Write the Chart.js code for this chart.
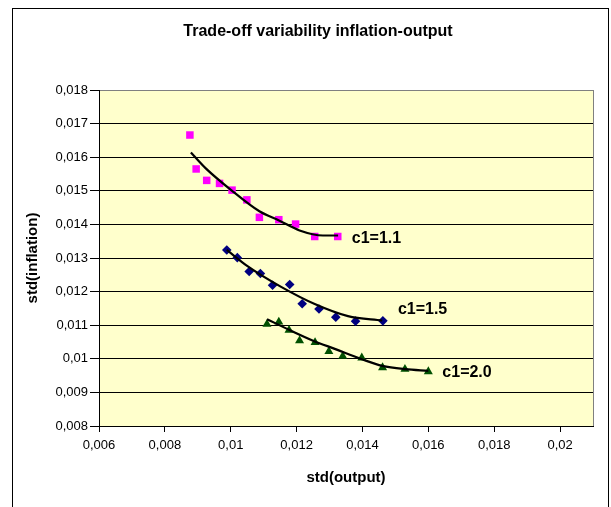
<!DOCTYPE html>
<html>
<head>
<meta charset="utf-8">
<style>
  html, body { margin: 0; padding: 0; background: #ffffff; }
  canvas { display: block; }
</style>
<script src="https://cdn.jsdelivr.net/npm/chart.js@4/dist/chart.umd.min.js"></script>
</head>
<body>
<canvas id="c" width="611" height="507"></canvas>
<script>
// ---- data ----
const chartTitle = 'Trade-off variability inflation-output';
const xTitle = 'std(output)';
const yTitle = 'std(inflation)';
const seriesLabels = ['c1=1.1', 'c1=1.5', 'c1=2.0'];

const c11X = [0.00876, 0.00895, 0.00927, 0.00966, 0.01004, 0.01049, 0.01087, 0.01146, 0.01197, 0.01255, 0.01325];
const c11Y = [0.01666, 0.01565, 0.01531, 0.01522, 0.01502, 0.01473, 0.01421, 0.01414, 0.01401, 0.01364, 0.01364];

const c15X = [0.00988, 0.01020, 0.01056, 0.01090, 0.01127, 0.01179, 0.01217, 0.01268, 0.01319, 0.01379, 0.01462];
const c15Y = [0.01324, 0.01301, 0.01260, 0.01254, 0.01219, 0.01221, 0.01164, 0.01148, 0.01124, 0.01112, 0.01113];

const c20X = [0.01110, 0.01146, 0.01177, 0.01209, 0.01256, 0.01298, 0.01340, 0.01398, 0.01461, 0.01529, 0.01600];
const c20Y = [0.01103, 0.01110, 0.01085, 0.01054, 0.01049, 0.01022, 0.01008, 0.01003, 0.00974, 0.00969, 0.00962];

// trend lines
const t11X = [0.00879, 0.00925, 0.01004, 0.01087, 0.01148, 0.01209, 0.01280, 0.01326];
const t11Y = [0.01614, 0.01566, 0.01500, 0.01439, 0.01411, 0.01382, 0.01367, 0.01367];
const t15X = [0.00988, 0.01052, 0.01153, 0.01255, 0.01356, 0.01460];
const t15Y = [0.01324, 0.01275, 0.01214, 0.01163, 0.01127, 0.01114];
const t20X = [0.01110, 0.01180, 0.01250, 0.01320, 0.01400, 0.01460, 0.01530, 0.01600];
const t20Y = [0.01118, 0.01085, 0.01054, 0.01028, 0.00998, 0.00979, 0.00969, 0.00964];

const xMin = 0.006, xMax = 0.021, xStep = 0.002;
const yMin = 0.008, yMax = 0.018, yStep = 0.001;

// ---- helpers ----
const pts = (xs, ys) => xs.map((x, i) => ({ x: x, y: ys[i] }));
const fmt = v => parseFloat(Number(v).toFixed(4)).toString().replace('.', ',');
const FONT = '"Liberation Sans", Arial, sans-serif';

const frameAndTitle = {
  id: 'frameAndTitle',
  beforeDraw(chart) {
    const { ctx, chartArea: a } = chart;
    ctx.save();
    ctx.fillStyle = '#ffffff';
    ctx.fillRect(0, 0, chart.width, chart.height);
    // outer chart frame
    ctx.strokeStyle = '#000000';
    ctx.lineWidth = 1;
    ctx.strokeRect(12.5, 8.5, 596, 520);
    // plot area
    ctx.fillStyle = '#FFFFCC';
    ctx.fillRect(a.left, a.top, a.right - a.left, a.bottom - a.top);
    ctx.strokeStyle = '#808080';
    ctx.strokeRect(Math.round(a.left) + 0.5, Math.round(a.top) + 0.5,
                   Math.round(a.right - a.left), Math.round(a.bottom - a.top));
    // title
    ctx.fillStyle = '#000000';
    ctx.font = 'bold 16px ' + FONT;
    ctx.textAlign = 'center';
    ctx.textBaseline = 'middle';
    ctx.fillText(chartTitle, 318, 32);
    ctx.restore();
  }
};

const seriesLabelPlugin = {
  id: 'seriesLabels',
  afterDatasetsDraw(chart) {
    const { ctx } = chart;
    const markerSets = [3, 4, 5];
    const offs = [[14, 2], [15, -11], [14, 1]];
    ctx.save();
    ctx.fillStyle = '#000000';
    ctx.font = 'bold 16px ' + FONT;
    ctx.textAlign = 'left';
    ctx.textBaseline = 'middle';
    markerSets.forEach((di, k) => {
      const meta = chart.getDatasetMeta(di);
      const last = meta.data[meta.data.length - 1];
      ctx.fillText(seriesLabels[k], last.x + offs[k][0], last.y + offs[k][1]);
    });
    ctx.restore();
  }
};

const trendStyle = {
  showLine: true,
  borderColor: '#000000',
  borderWidth: 2.2,
  pointRadius: 0,
  pointHoverRadius: 0,
  fill: false,
  cubicInterpolationMode: 'monotone'
};

new Chart(document.getElementById('c'), {
  type: 'scatter',
  data: {
    datasets: [
      Object.assign({ data: pts(t11X, t11Y) }, trendStyle),
      Object.assign({ data: pts(t15X, t15Y) }, trendStyle),
      Object.assign({ data: pts(t20X, t20Y) }, trendStyle),
      { data: pts(c11X, c11Y), pointStyle: 'rect', pointRadius: 5.3,
        backgroundColor: '#FF00FF', borderColor: '#FF00FF', borderWidth: 0 },
      { data: pts(c15X, c15Y), pointStyle: 'rectRot', pointRadius: 4.8,
        backgroundColor: '#000080', borderColor: '#000080', borderWidth: 0 },
      { data: pts(c20X, c20Y), pointStyle: 'triangle', pointRadius: 5.2,
        backgroundColor: '#005000', borderColor: '#005000', borderWidth: 0 }
    ]
  },
  options: {
    responsive: false,
    animation: false,
    devicePixelRatio: 1,
    layout: { padding: { left: 12, top: 90, right: 18, bottom: 0 } },
    plugins: { legend: { display: false }, tooltip: { enabled: false }, title: { display: false } },
    scales: {
      x: {
        type: 'linear',
        min: xMin, max: xMax,
        afterFit: s => { s.height = 81; },
        ticks: {
          stepSize: xStep, includeBounds: false, padding: 6,
          color: '#000000', font: { family: FONT, size: 13 },
          maxRotation: 0, autoSkip: false,
          callback: v => fmt(v)
        },
        grid: { drawOnChartArea: false, drawTicks: true, tickLength: 6, tickColor: '#000000', color: '#000000' },
        border: { display: true, color: '#000000', width: 1 },
        title: { display: true, text: xTitle, color: '#000000',
                 font: { family: FONT, size: 15, weight: 'bold' }, padding: { top: 0, bottom: 20 } }
      },
      y: {
        type: 'linear',
        min: yMin, max: yMax,
        afterFit: s => { s.width = 87; },
        ticks: {
          stepSize: yStep, padding: 2,
          color: '#000000', font: { family: FONT, size: 13 },
          autoSkip: false,
          callback: v => fmt(v)
        },
        grid: {
          drawOnChartArea: true, drawTicks: true, tickLength: 9, tickColor: '#000000',
          color: c => (c.tick && c.tick.value >= yMax - 1e-9) ? '#808080' : '#000000'
        },
        border: { display: true, color: '#000000', width: 1 },
        title: { display: true, text: yTitle, color: '#000000',
                 font: { family: FONT, size: 15, weight: 'bold' }, padding: { top: 12, bottom: 0 } }
      }
    }
  },
  plugins: [frameAndTitle, seriesLabelPlugin]
});
</script>
</body>
</html>
